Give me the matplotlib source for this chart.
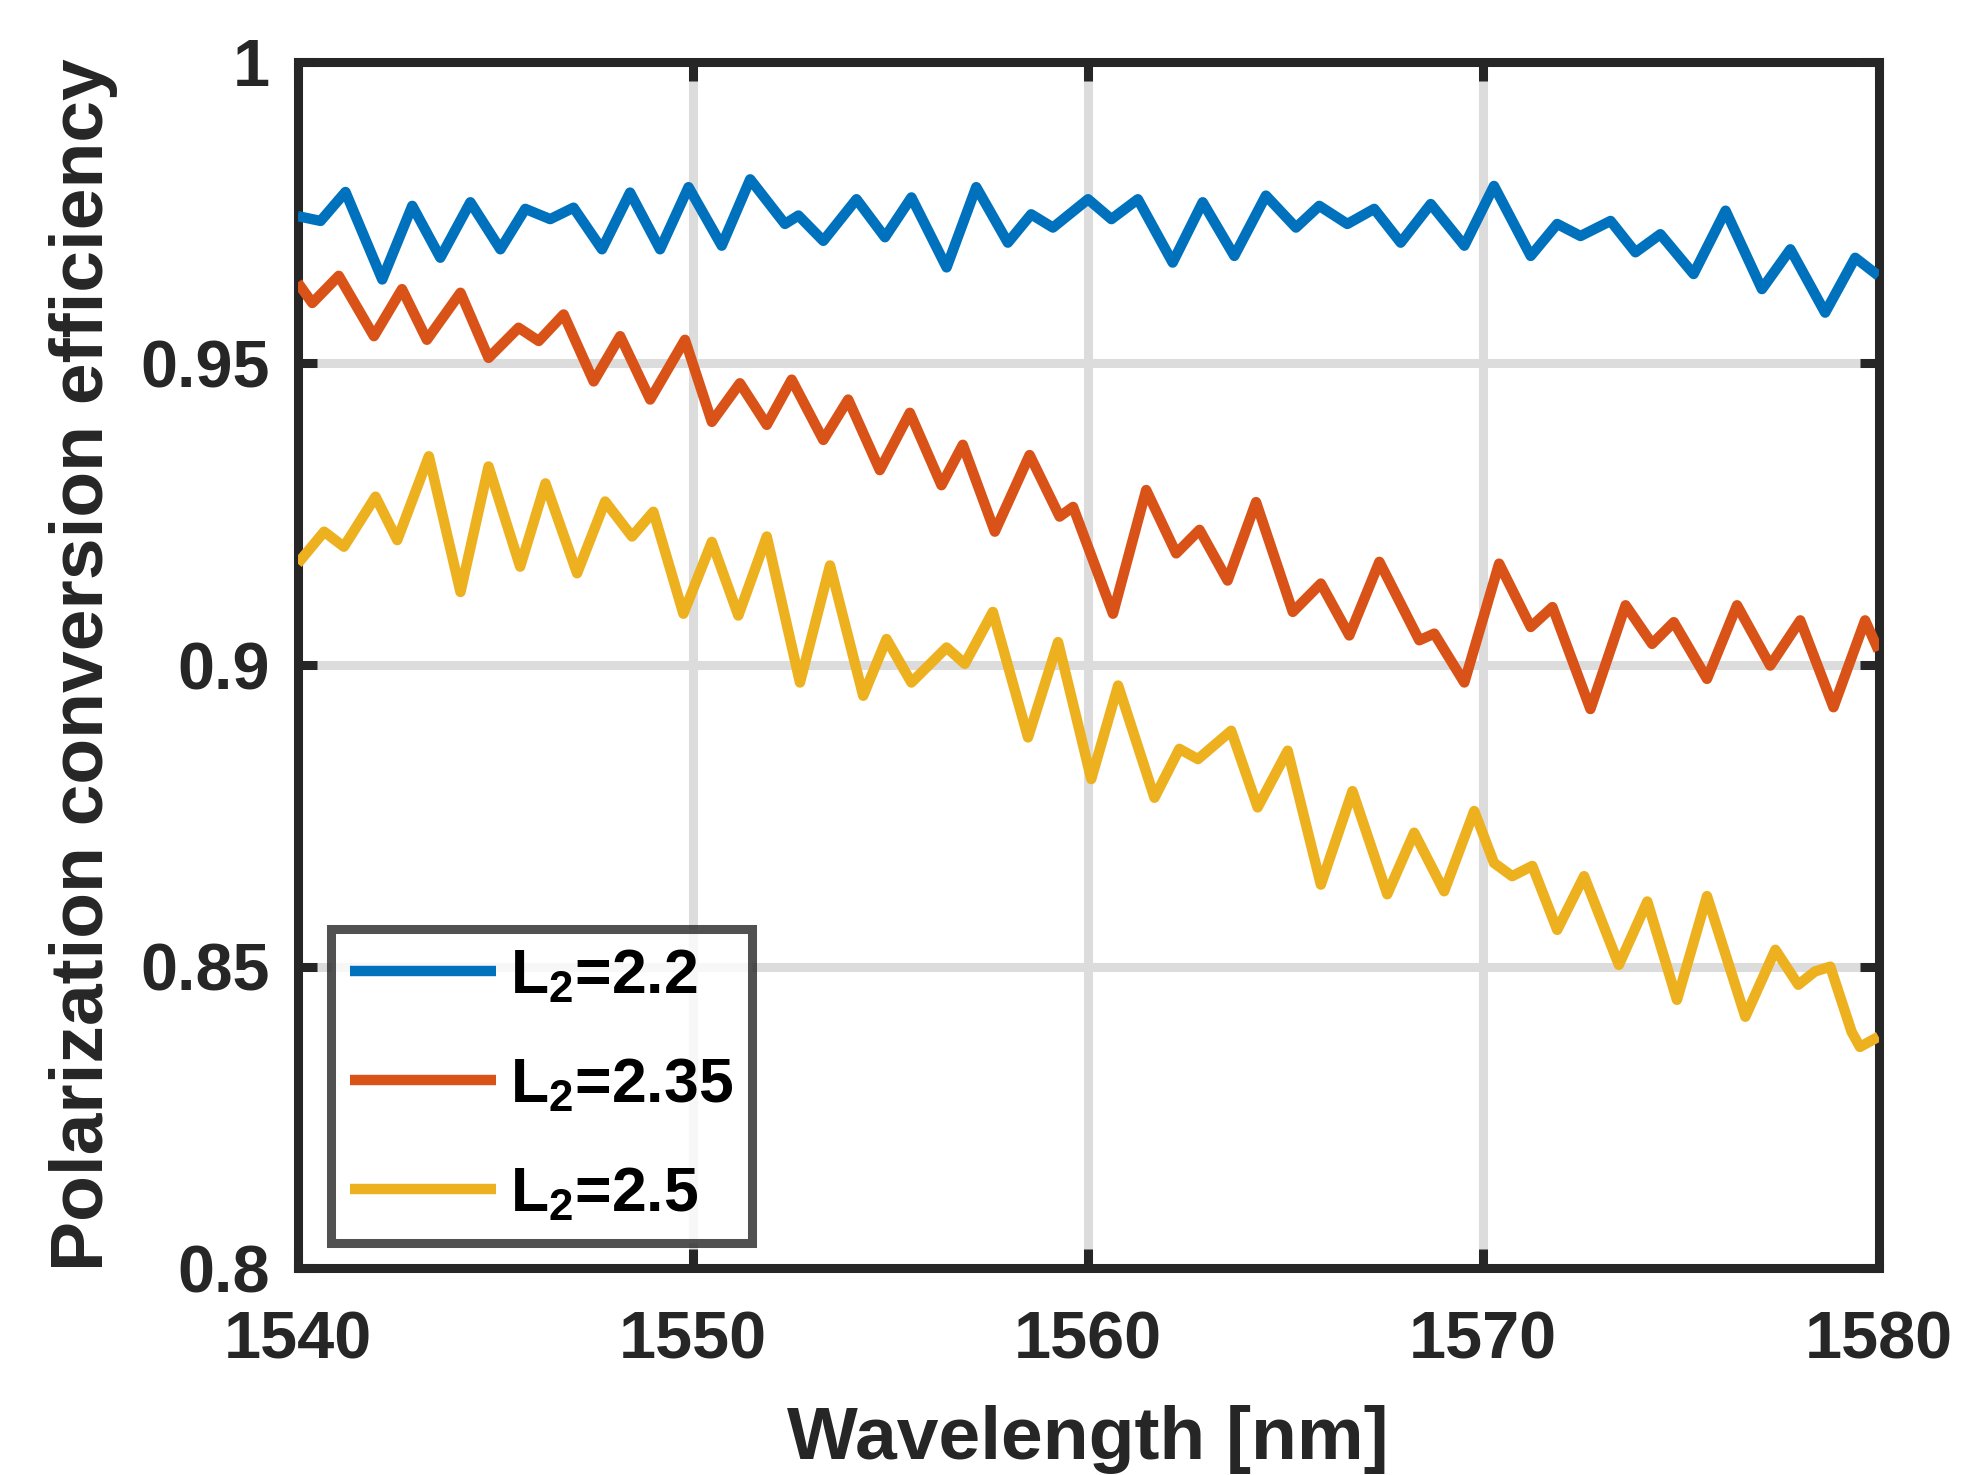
import matplotlib
matplotlib.use("Agg")
import matplotlib.pyplot as plt

plt.rcParams['font.family'] = ['Liberation Sans', 'DejaVu Sans']
plt.rcParams['font.weight'] = 'bold'
plt.rcParams['mathtext.fontset'] = 'custom'
plt.rcParams['mathtext.rm'] = 'Liberation Sans:bold'
plt.rcParams['mathtext.bf'] = 'Liberation Sans:bold'
plt.rcParams['mathtext.it'] = 'Liberation Sans:bold'
plt.rcParams['mathtext.default'] = 'bf'

# ---- data ----
blue_wl = [1540.0, 1540.58, 1541.21, 1542.14, 1542.9, 1543.61, 1544.37, 1545.13, 1545.76, 1546.39,
           1546.98, 1547.7, 1548.41, 1549.17, 1549.89, 1550.73, 1551.45, 1552.33, 1552.67, 1553.30,
           1554.14, 1554.86, 1555.53, 1556.42, 1557.17, 1557.97, 1558.56, 1559.11, 1560.0, 1560.59,
           1561.26, 1562.14, 1562.9, 1563.70, 1564.50, 1565.26, 1565.85, 1566.56, 1567.24, 1567.91,
           1568.67, 1569.52, 1570.27, 1571.20, 1571.87, 1572.46, 1573.22, 1573.85, 1574.48, 1575.32,
           1576.13, 1577.05, 1577.77, 1578.65, 1579.41, 1580.0]
blue_eff = [0.9744, 0.9736, 0.9784, 0.9639, 0.9761, 0.9675, 0.9767, 0.9689, 0.9756, 0.9739,
            0.9758, 0.9689, 0.9783, 0.9689, 0.9792, 0.9695, 0.9805, 0.9731, 0.9745, 0.9703,
            0.9772, 0.9709, 0.9775, 0.9659, 0.9792, 0.9700, 0.9747, 0.9725, 0.9772, 0.9739,
            0.9772, 0.9667, 0.9767, 0.9678, 0.9778, 0.9725, 0.9761, 0.9731, 0.9756, 0.9700,
            0.9764, 0.9695, 0.9794, 0.9678, 0.9731, 0.9711, 0.9736, 0.9684, 0.9714, 0.9648,
            0.9753, 0.9623, 0.9689, 0.9584, 0.9675, 0.9645]

orange_wl = [1540.0, 1540.37, 1541.04, 1541.93, 1542.64, 1543.27, 1544.12, 1544.83, 1545.59, 1546.10,
             1546.73, 1547.49, 1548.16, 1548.92, 1549.80, 1550.48, 1551.19, 1551.87, 1552.50, 1553.30,
             1553.93, 1554.73, 1555.49, 1556.29, 1556.83, 1557.64, 1558.52, 1559.28, 1559.62, 1560.63,
             1561.47, 1562.23, 1562.82, 1563.53, 1564.25, 1565.18, 1565.89, 1566.61, 1567.37, 1568.38,
             1568.76, 1569.52, 1570.40, 1571.20, 1571.75, 1572.71, 1573.60, 1574.27, 1574.82, 1575.66,
             1576.42, 1577.26, 1578.02, 1578.86, 1579.66, 1580.0]
orange_eff = [0.9634, 0.9600, 0.9645, 0.9545, 0.9623, 0.9539, 0.9617, 0.9509, 0.9559, 0.9537,
              0.9581, 0.9470, 0.9545, 0.9440, 0.9539, 0.9403, 0.9467, 0.9398, 0.9473, 0.9373,
              0.9440, 0.9323, 0.9418, 0.9298, 0.9365, 0.9221, 0.9348, 0.9246, 0.9262, 0.9085,
              0.9290, 0.9185, 0.9224, 0.9140, 0.9270, 0.9088, 0.9135, 0.9049, 0.9171, 0.9041,
              0.9052, 0.8971, 0.9168, 0.9063, 0.9096, 0.8927, 0.9099, 0.9035, 0.9071, 0.8977,
              0.9099, 0.8999, 0.9074, 0.8930, 0.9074, 0.9024]

yellow_wl = [1540.0, 1540.67, 1541.17, 1541.97, 1542.52, 1543.32, 1544.12, 1544.83, 1545.63, 1546.27,
             1547.07, 1547.78, 1548.46, 1549.0, 1549.76, 1550.48, 1551.15, 1551.87, 1552.71, 1553.47,
             1554.31, 1554.90, 1555.53, 1556.42, 1556.88, 1557.59, 1558.48, 1559.24, 1560.08, 1560.76,
             1561.68, 1562.31, 1562.78, 1563.62, 1564.29, 1565.05, 1565.89, 1566.69, 1567.57, 1568.25,
             1569.01, 1569.77, 1570.27, 1570.73, 1571.24, 1571.87, 1572.55, 1573.43, 1574.15, 1574.90,
             1575.66, 1576.63, 1577.39, 1577.97, 1578.39, 1578.78, 1579.32, 1579.53, 1580.0]
yellow_eff = [0.9168, 0.9221, 0.9196, 0.9279, 0.9207, 0.9346, 0.9121, 0.9329, 0.9163, 0.9301,
              0.9152, 0.9271, 0.9213, 0.9254, 0.9085, 0.9204, 0.9082, 0.9213, 0.8971, 0.9165,
              0.8949, 0.9043, 0.8971, 0.9029, 0.9002, 0.9088, 0.8880, 0.9038, 0.8811, 0.8966,
              0.8780, 0.8861, 0.8844, 0.8891, 0.8764, 0.8858, 0.8636, 0.8791, 0.8620, 0.8722,
              0.8625, 0.8758, 0.8672, 0.8650, 0.8667, 0.8561, 0.8650, 0.8503, 0.8608, 0.8445,
              0.8617, 0.8417, 0.8528, 0.8470, 0.8492, 0.8500, 0.8392, 0.8367, 0.8384]

labels = ['L$_2$=2.2', 'L$_2$=2.35', 'L$_2$=2.5']
colors = ['#0072BD', '#D95319', '#EDB120']
x_ticks = [1540, 1550, 1560, 1570, 1580]
y_ticks = [0.8, 0.85, 0.9, 0.95, 1.0]
y_ticklabels = ['0.8', '0.85', '0.9', '0.95', '1']

dark = '#262626'

fig = plt.figure(figsize=(19.66, 14.75), dpi=100)
ax = fig.add_axes([0.1514, 0.1401, 0.8041, 0.8181])

series = [(blue_wl, blue_eff), (orange_wl, orange_eff), (yellow_wl, yellow_eff)]
for (xs, ys), c, lab in zip(series, colors, labels):
    ax.plot(xs, ys, color=c, lw=7.5, label=lab, solid_joinstyle='round',
            solid_capstyle='butt', zorder=3)

ax.set_xlim(1540, 1580)
ax.set_ylim(0.8, 1.0)
ax.set_xticks(x_ticks)
ax.set_xticklabels([str(t) for t in x_ticks])
ax.set_yticks(y_ticks)
ax.set_yticklabels(y_ticklabels)

ax.grid(True, color='#dcdcdc', lw=6.5, zorder=0)
ax.set_axisbelow(True)

for s in ax.spines.values():
    s.set_color(dark)
    s.set_linewidth(6.5)

ax.tick_params(axis='both', which='both', direction='in', length=14, width=6.5,
               colors=dark, labelsize=48, top=True, right=True)
ax.tick_params(axis='x', pad=30)
ax.tick_params(axis='y', pad=20)
for t in ax.get_xticklabels() + ax.get_yticklabels():
    t.set_fontweight('bold')

ax.set_xlabel('Wavelength [nm]', fontsize=54, fontweight='bold', color=dark)
ax.set_ylabel('Polarization conversion efficiency', fontsize=54, fontweight='bold', color=dark)
ax.xaxis.set_label_coords(0.5, -0.113)
ax.yaxis.set_label_coords(-0.1135, 0.5)

leg = ax.legend(loc='lower left', bbox_to_anchor=(0.0214, 0.021), fontsize=45,
                handlelength=2.34, handletextpad=0.22, borderpad=0.3, labelspacing=0.8,
                frameon=True, fancybox=False, borderaxespad=0)
leg.get_frame().set_edgecolor(dark)
leg.get_frame().set_linewidth(6.5)
for t in leg.get_texts():
    t.set_color('black')
    t.set_fontweight('bold')

fig.savefig('out.png', dpi=100, facecolor='white')
